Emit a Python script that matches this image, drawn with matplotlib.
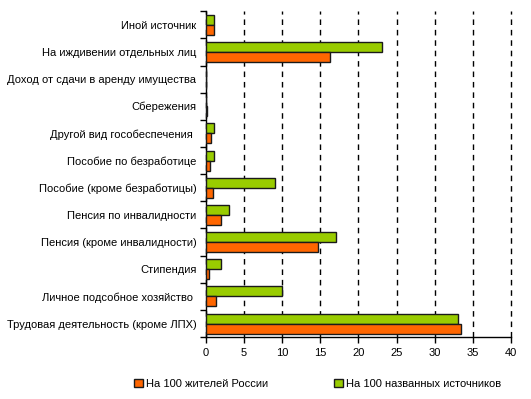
import numpy as np
import matplotlib
matplotlib.use('Agg')
import matplotlib.pyplot as plt
from matplotlib.ticker import MultipleLocator, FixedLocator

# categories from bottom to top
categories = [
    "Трудовая деятельность (кроме ЛПХ)",
    "Личное подсобное хозяйство ",
    "Стипендия",
    "Пенсия (кроме инвалидности)",
    "Пенсия по инвалидности",
    "Пособие (кроме безработицы)",
    "Пособие по безработице",
    "Другой вид гособеспечения ",
    "Сбережения",
    "Доход от сдачи в аренду имущества",
    "На иждивении отдельных лиц",
    "Иной источник",
]
per_100_residents = [33.5, 1.3, 0.35, 14.7, 1.95, 0.9, 0.5, 0.6, 0.15, 0.0, 16.3, 1.0]
per_100_sources = [33.1, 10.0, 2.0, 17.1, 3.0, 9.1, 1.0, 1.0, 0.0, 0.0, 23.1, 1.0]

ORANGE = "#ff6600"
GREEN = "#99cc00"

plt.rcParams['font.family'] = ['Liberation Sans', 'DejaVu Sans']
plt.rcParams['font.size'] = 8

fig = plt.figure(figsize=(5.31, 3.99), dpi=100)
ax = fig.add_axes([0.388, 0.155, 0.574, 0.817])

y = np.arange(len(categories))
h = 0.37
ax.barh(y + h / 2, per_100_sources, height=h, color=GREEN, edgecolor="#1a1a1a",
        linewidth=1, label="На 100 названных источников", zorder=3)
ax.barh(y - h / 2, per_100_residents, height=h, color=ORANGE, edgecolor="#1a1a1a",
        linewidth=1, label="На 100 жителей России", zorder=3)

ax.set_ylim(-0.5, len(categories) - 0.5)
ax.set_xlim(0, 40)
ax.xaxis.set_major_locator(MultipleLocator(5))
ax.set_yticks(y)
ax.set_yticklabels(categories)
ax.yaxis.set_minor_locator(FixedLocator(np.arange(-0.5, len(categories), 1)))
ax.tick_params(axis='y', which='major', length=0, pad=7)
ax.tick_params(axis='y', which='minor', length=4, width=1)
ax.tick_params(axis='x', length=4, width=1, pad=4)

ax.grid(axis='x', color='black', linestyle=(0, (4, 3.5)), linewidth=1, zorder=0)
for gl in ax.get_xgridlines():
    gl.set_clip_on(False)
for s in ['top', 'right']:
    ax.spines[s].set_visible(False)
for s in ['left', 'bottom']:
    ax.spines[s].set_linewidth(1)

handles, labels = ax.get_legend_handles_labels()
fig.legend(handles[::-1], labels[::-1], loc='lower center', bbox_to_anchor=(0.598, 0.0),
           ncol=2, frameon=False, handlelength=0.8, handleheight=0.8,
           handletextpad=0.3, columnspacing=5.9)

fig.savefig("out.png", dpi=100)
